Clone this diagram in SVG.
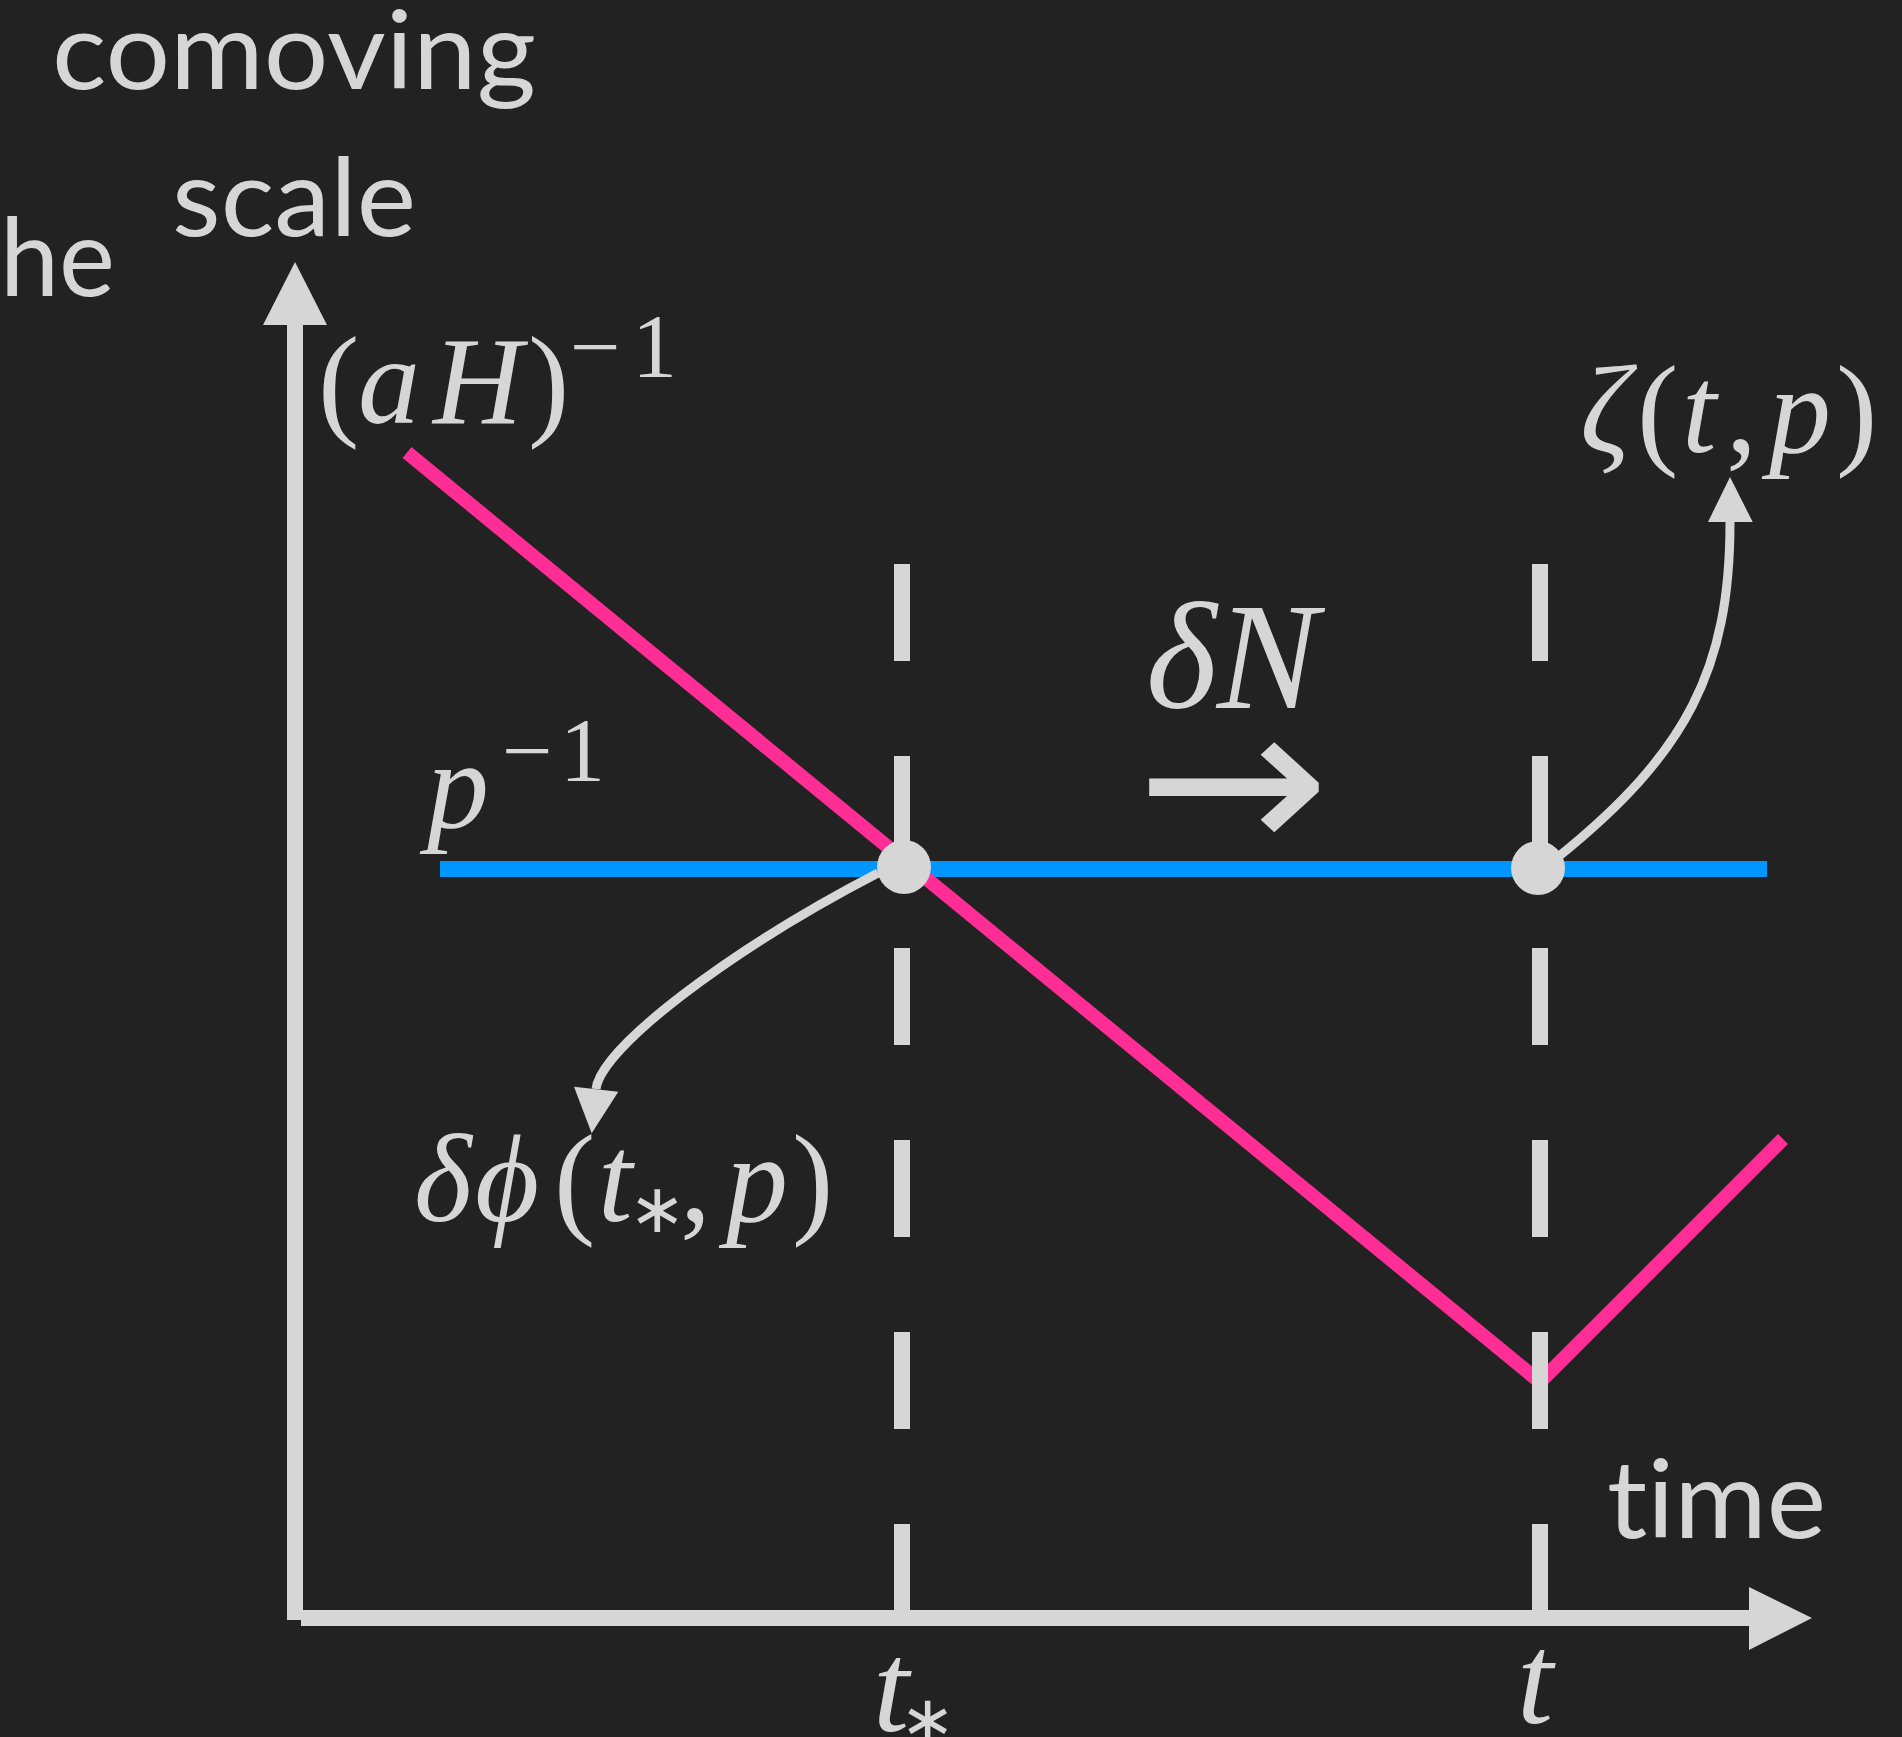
<svg xmlns="http://www.w3.org/2000/svg" width="1902" height="1737" viewBox="0 0 1902 1737">
  <style>
    .m { font-family: "Liberation Serif", "DejaVu Serif", serif; fill: #D6D6D6; }
    .it { font-style: italic; }
    .star { font-family: "DejaVu Sans", sans-serif; font-style: normal; }
    .sans { font-family: Lato, "Open Sans", "Noto Sans", sans-serif; fill: #D6D6D6; font-size: 108px; font-variant-ligatures: none; font-feature-settings: "liga" 0, "clig" 0; }
    .ax { fill: #D6D6D6; }
    .dash { stroke: #D6D6D6; stroke-width: 16; stroke-dasharray: 97 95; fill: none; }
    .curve { stroke: #D6D6D6; stroke-width: 9; fill: none; }
    .dot { fill: #D6D6D6; }
  </style>
  <rect x="0" y="0" width="1902" height="1737" fill="#222222"/>

  <g id="axis-labels">
    <text class="sans" x="52" y="89" textLength="484" lengthAdjust="spacingAndGlyphs">comoving</text>
    <text class="sans" x="172" y="236" textLength="244" lengthAdjust="spacingAndGlyphs">scale</text>
    <text class="sans" x="0" y="296" textLength="115" lengthAdjust="spacingAndGlyphs">he</text>
    <text class="sans" x="1607" y="1538" textLength="219" lengthAdjust="spacingAndGlyphs">time</text>
  </g>

  <g id="connectors">
    <line x1="440" y1="869" x2="1767" y2="869" stroke="#0096FF" stroke-width="16"/>
    <polyline points="407,452.5 1540,1382 1783,1139" fill="none" stroke="#FF2D96" stroke-width="14"/>
    <line class="dash" x1="902" y1="564" x2="902" y2="1618"/>
    <line class="dash" x1="1540" y1="564" x2="1540" y2="1618"/>
    <path class="curve" d="M878,873 C728,951 601,1048 596,1089"/>
    <polygon class="ax" points="574,1086.7 618.3,1091.7 591.7,1133.3"/>
    <path class="curve" d="M1558,857 C1687,753 1730,669 1730,522"/>
    <polygon class="ax" points="1708,522 1752.7,522 1730,477"/>
  </g>

  <g id="axes">
    <rect class="ax" x="287" y="324" width="16" height="1296"/>
    <polygon class="ax" points="263,325 327,325 295,262"/>
    <rect class="ax" x="301" y="1610" width="1449" height="16"/>
    <polygon class="ax" points="1749,1587 1749,1650 1812,1618"/>
  </g>

  <g id="node-tstar">
    <circle class="dot" cx="904" cy="867" r="27"/>
  </g>
  <g id="node-t">
    <circle class="dot" cx="1538" cy="868" r="27"/>
  </g>

  <g id="label-aH">
    <text class="m" y="423" font-size="124"><tspan x="318">(</tspan><tspan class="it" x="358">a</tspan><tspan class="it" x="433">H</tspan><tspan x="528">)</tspan><tspan x="570" y="377" font-size="90">−</tspan><tspan x="632" y="377" font-size="90">1</tspan></text>
  </g>

  <g id="label-p">
    <text class="m" y="827" font-size="124"><tspan class="it" x="427">p</tspan><tspan x="502" y="781" font-size="90">−</tspan><tspan x="560" y="781" font-size="90">1</tspan></text>
  </g>

  <g id="label-zeta">
    <text class="m" y="452" font-size="124"><tspan class="it" x="1580">ζ</tspan><tspan x="1637">(</tspan><tspan class="it" x="1682">t</tspan><tspan x="1726">,</tspan><tspan class="it" x="1769">p</tspan><tspan x="1836">)</tspan></text>
  </g>

  <g id="label-dphi">
    <text class="m" y="1221" font-size="124"><tspan class="it" x="414">δ</tspan><tspan class="it" x="475">ϕ</tspan><tspan x="554">(</tspan><tspan class="it" x="598">t</tspan><tspan class="star" x="629" y="1232" font-size="68">∗</tspan><tspan x="680" y="1221">,</tspan><tspan class="it" x="726">p</tspan><tspan x="792">)</tspan></text>
  </g>

  <g id="label-dN">
    <text class="m it" x="1146" y="708" font-size="152">δN</text>
    <text x="1136" y="853" font-family="DejaVu Sans, sans-serif" font-size="210" fill="#D6D6D6" textLength="194" lengthAdjust="spacingAndGlyphs">→</text>
  </g>

  <g id="tick-labels">
    <text class="m" y="1731" font-size="130"><tspan class="it" x="873">t</tspan><tspan class="star" x="900" y="1742" font-size="66">∗</tspan></text>
    <text class="m it" x="1517" y="1723" font-size="130">t</text>
  </g>
</svg>
